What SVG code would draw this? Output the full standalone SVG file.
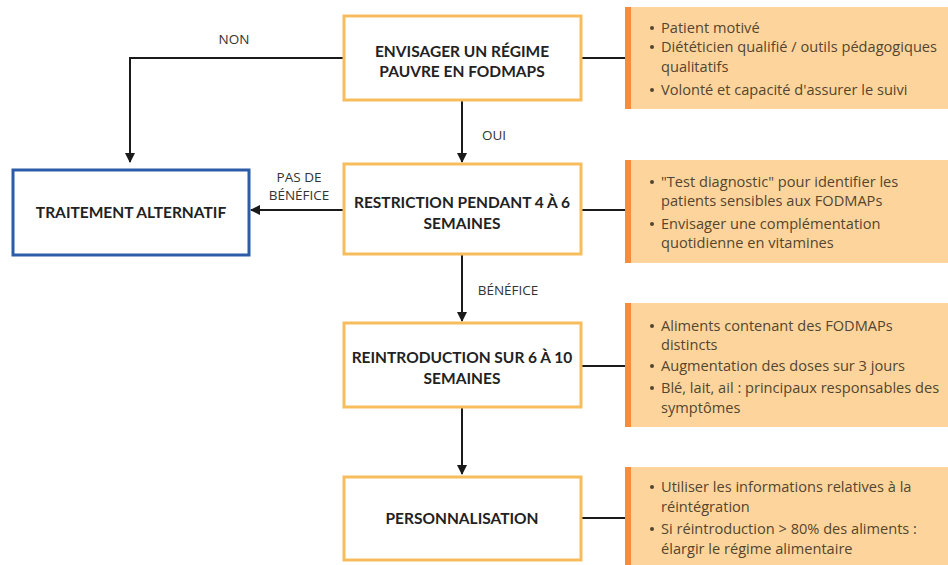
<svg xmlns="http://www.w3.org/2000/svg" width="948" height="565" viewBox="0 0 948 565">
<defs>
<marker id="arr" viewBox="0 0 10 10" refX="9" refY="5" markerWidth="10" markerHeight="10" markerUnits="userSpaceOnUse" orient="auto">
<path d="M0,0 L10,5 L0,10 z" fill="#1a1a1a"/>
</marker>
<style>
.box{fill:#fff;stroke:#f7bd5c;stroke-width:3}
.alt{fill:#fff;stroke:#2c5ca8;stroke-width:3}
.bt{font-family:Lato,"Liberation Sans",sans-serif;font-weight:bold;font-size:15.5px;fill:#222;text-anchor:middle}
.panel{fill:#fdd59c}
.stripe{fill:#f68c3e}
.pt{font-family:"Open Sans","Liberation Sans",sans-serif;font-size:14.6px;fill:#54452f}
.bu{fill:#54452f}
.lbl{font-family:"Open Sans","Liberation Sans",sans-serif;font-size:13.5px;fill:#333;text-anchor:middle}
.ln{stroke:#1a1a1a;stroke-width:2;fill:none}
</style>
</defs>
<rect width="948" height="565" fill="#fff"/>
<g id="connectors">
<path class="ln" d="M581,58 H625"/>
<path class="ln" d="M581,210 H625"/>
<path class="ln" d="M581,366 H625"/>
<path class="ln" d="M581,518 H625"/>
<path class="ln" d="M343,58 H130 V162" marker-end="url(#arr)"/>
<path class="ln" d="M462,100 V162" marker-end="url(#arr)"/>
<path class="ln" d="M343,210 H251" marker-end="url(#arr)"/>
<path class="ln" d="M462,254 V321" marker-end="url(#arr)"/>
<path class="ln" d="M462,407 V474" marker-end="url(#arr)"/>
<text class="lbl" x="234" y="44">NON</text>
<text class="lbl" x="494" y="140">OUI</text>
<text class="lbl" x="299" y="182">PAS DE</text>
<text class="lbl" x="299" y="200">BÉNÉFICE</text>
<text class="lbl" x="508" y="295">BÉNÉFICE</text>
</g>
<g id="n1">
<rect class="box" x="344" y="16" width="237" height="84"/>
<text class="bt" x="462" y="57">ENVISAGER UN RÉGIME</text>
<text class="bt" x="462" y="77">PAUVRE EN FODMAPS</text>
</g>
<g id="n2">
<rect class="box" x="344" y="164" width="237" height="90"/>
<text class="bt" x="462" y="208">RESTRICTION PENDANT 4 À 6</text>
<text class="bt" x="462" y="229">SEMAINES</text>
</g>
<g id="n3">
<rect class="box" x="344" y="323" width="237" height="84"/>
<text class="bt" x="462" y="363">REINTRODUCTION SUR 6 À 10</text>
<text class="bt" x="462" y="384">SEMAINES</text>
</g>
<g id="n4">
<rect class="box" x="344" y="477" width="237" height="83"/>
<text class="bt" x="462" y="524">PERSONNALISATION</text>
</g>
<g id="alt">
<rect class="alt" x="13" y="170" width="236" height="85"/>
<text class="bt" x="131" y="218">TRAITEMENT ALTERNATIF</text>
</g>
<g id="p1">
<rect class="panel" x="625" y="7" width="323" height="102"/>
<rect class="stripe" x="625" y="7" width="6" height="102"/>
<circle class="bu" cx="652" cy="28" r="2"/>
<text class="pt" x="661" y="33">Patient motivé</text>
<circle class="bu" cx="652" cy="47" r="2"/>
<text class="pt" x="661" y="52">Diététicien qualifié / outils pédagogiques</text>
<text class="pt" x="661" y="72">qualitatifs</text>
<circle class="bu" cx="652" cy="90" r="2"/>
<text class="pt" x="661" y="95">Volonté et capacité d'assurer le suivi</text>
</g>
<g id="p2">
<rect class="panel" x="625" y="160" width="323" height="103"/>
<rect class="stripe" x="625" y="160" width="6" height="103"/>
<circle class="bu" cx="652" cy="182" r="2"/>
<text class="pt" x="661" y="187">"Test diagnostic" pour identifier les</text>
<text class="pt" x="661" y="206">patients sensibles aux FODMAPs</text>
<circle class="bu" cx="652" cy="224" r="2"/>
<text class="pt" x="661" y="229">Envisager une complémentation</text>
<text class="pt" x="661" y="248">quotidienne en vitamines</text>
</g>
<g id="p3">
<rect class="panel" x="625" y="303" width="323" height="124"/>
<rect class="stripe" x="625" y="303" width="6" height="124"/>
<circle class="bu" cx="652" cy="326" r="2"/>
<text class="pt" x="661" y="331">Aliments contenant des FODMAPs</text>
<text class="pt" x="661" y="350">distincts</text>
<circle class="bu" cx="652" cy="366" r="2"/>
<text class="pt" x="661" y="371">Augmentation des doses sur 3 jours</text>
<circle class="bu" cx="652" cy="388" r="2"/>
<text class="pt" x="661" y="393">Blé, lait, ail : principaux responsables des</text>
<text class="pt" x="661" y="413">symptômes</text>
</g>
<g id="p4">
<rect class="panel" x="625" y="467" width="323" height="98"/>
<rect class="stripe" x="625" y="467" width="6" height="98"/>
<circle class="bu" cx="652" cy="487" r="2"/>
<text class="pt" x="661" y="492">Utiliser les informations relatives à la</text>
<text class="pt" x="661" y="512">réintégration</text>
<circle class="bu" cx="652" cy="529" r="2"/>
<text class="pt" x="661" y="534">Si réintroduction &gt; 80% des aliments :</text>
<text class="pt" x="661" y="554">élargir le régime alimentaire</text>
</g>
</svg>
